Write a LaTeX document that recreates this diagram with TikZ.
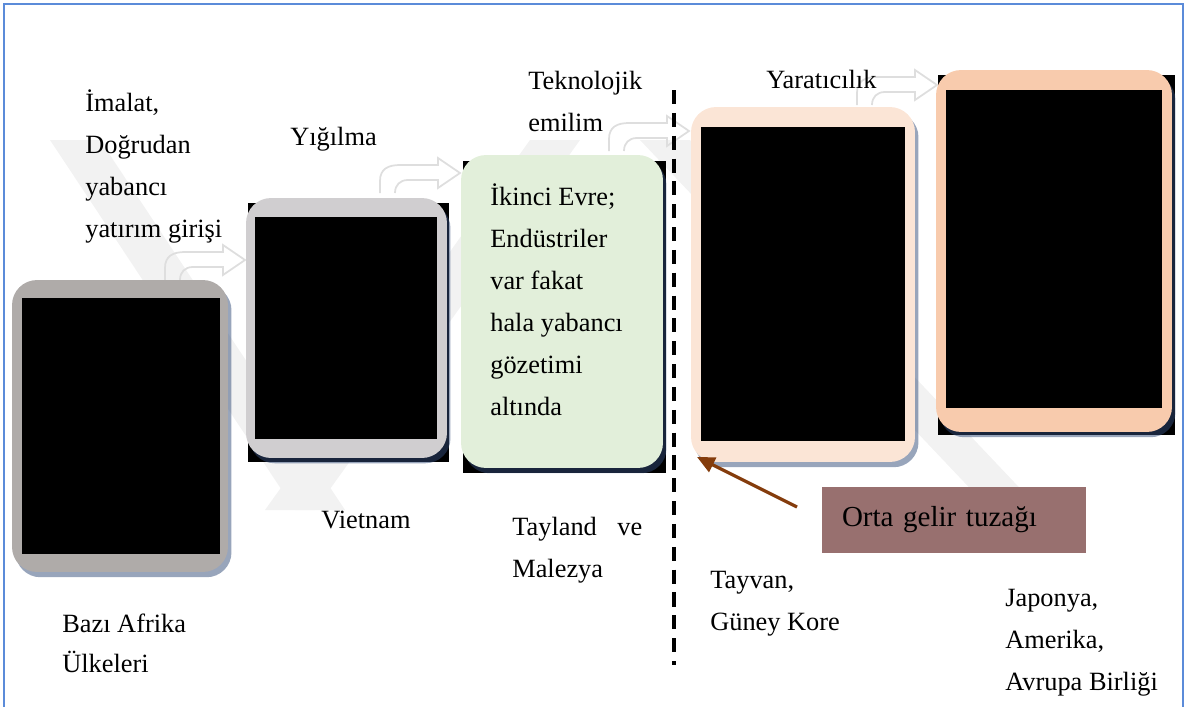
\documentclass[tikz,border=0pt]{standalone}
\usepackage{fontspec}
\setmainfont{Liberation Serif}
\usetikzlibrary{positioning, arrows.meta, shadows}

\definecolor{frameblue}{RGB}{91,139,217}
\definecolor{africagray}{RGB}{175,171,169}
\definecolor{vietgray}{RGB}{208,206,208}
\definecolor{stagegreen}{RGB}{226,239,218}
\definecolor{lightpeach}{RGB}{251,229,214}
\definecolor{peach}{RGB}{248,203,173}
\definecolor{shadowblue}{RGB}{50,75,120}
\definecolor{trapbrown}{RGB}{132,60,12}
\definecolor{trapfill}{RGB}{152,112,111}
\definecolor{bendgray}{RGB}{222,222,222}
\definecolor{markgray}{RGB}{242,242,242}

\begin{document}
\begin{tikzpicture}[
    x=0.02cm, y=-0.02cm,
    font=\fontsize{15}{23.8}\selectfont,
    % Styles
    step_box/.style={
        rounded corners=0.5cm,
        inner sep=0, outer sep=0,
        drop shadow={shadow xshift=2pt, shadow yshift=-3pt,
                     fill=shadowblue, opacity=0.5}
    },
    backdrop/.style={fill=black, inner sep=0, outer sep=0},
    photo/.style={fill=black, inner sep=0, outer sep=0},
    % text nodes sit on the baseline of their last line
    txt/.style={anchor=base west, align=left, inner sep=0},
    trap_box/.style={
        fill=trapfill,
        minimum width=5.28cm,
        minimum height=1.32cm,
        text width=4.48cm,
        inner xsep=0.4cm,
        align=left,
        font=\fontsize{16.5}{20}\selectfont
    },
    bend_line/.style={draw=bendgray, line width=1pt},
    curved_arrow/.pic={
        \draw[bend_line] (0,0) -- (0,-12) .. controls (0,-24) and (8,-28) .. (20,-28)
            -- (58,-28) -- (58,-35) -- (80,-20) -- (58,-5) -- (58,-13) -- (28,-13)
            .. controls (20,-13) and (15,-8) .. (15,0);
    },
    arrow/.style={-{Triangle[length=10pt, width=9pt]}, line width=1.8pt, draw=trapbrown}
]
    \useasboundingbox (0,0) rectangle (1188,707);

    % --- FRAME ---
    \draw[frameblue, line width=1pt] (4,707) -- (4,4) -- (1183,4) -- (1183,707);

    % --- WATERMARK ---
    \fill[markgray] (50,140) -- (100,140) -- (345,510) -- (295,510) -- cycle;
    \fill[markgray] (265,510) -- (315,510) -- (580,140) -- (530,140) -- cycle;
    \fill[markgray] (640,140) -- (690,140) -- (1050,520) -- (1000,520) -- cycle;

    % --- CURVED ARROWS ---
    \pic at (165,280) {curved_arrow};
    \pic at (380,193) {curved_arrow};
    \pic at (609,151) {curved_arrow};
    \pic at (857,105) {curved_arrow};

    % --- STEPS ---
    % Bazi Afrika Ulkeleri
    \node[step_box, fill=africagray, minimum width=4.32cm, minimum height=5.84cm]
        (africa_box) at (120,426) {};
    \node[photo, minimum width=3.96cm, minimum height=5.12cm] (africa_img) at (121,426) {};

    % Vietnam
    \node[backdrop, minimum width=4.02cm, minimum height=5.18cm] (viet_back) at (348.5,332.5) {};
    \node[step_box, fill=vietgray, minimum width=4.02cm, minimum height=5.2cm]
        (viet_box) at (346.5,328) {};
    \node[photo, minimum width=3.64cm, minimum height=4.44cm] (viet_img) at (346,328) {};

    % Tayland ve Malezya
    \node[backdrop, minimum width=4.06cm, minimum height=6.24cm] (stage_back) at (564.5,317) {};
    \node[step_box, fill=stagegreen, minimum width=4.04cm, minimum height=6.26cm]
        (stage_box) at (562,311.5) {};

    % Tayvan, Guney Kore
    \node[step_box, fill=lightpeach, minimum width=4.48cm, minimum height=7.1cm]
        (asia_box) at (803,284.5) {};
    \node[photo, minimum width=4.08cm, minimum height=6.28cm] (asia_img) at (803,284) {};

    % Japonya, Amerika, AB
    \node[backdrop, minimum width=4.74cm, minimum height=7.2cm] (rich_back) at (1056.5,255) {};
    \node[step_box, fill=peach, minimum width=4.72cm, minimum height=7.24cm]
        (rich_box) at (1054,251) {};
    \node[photo, minimum width=4.32cm, minimum height=6.36cm] (rich_img) at (1054,249) {};

    % --- MIDDLE INCOME LINE ---
    \coordinate (divider_top) at (674,90);
    \coordinate (divider_bottom) at (674,665);
    \draw[line width=2pt, dash pattern=on 8pt off 5pt] (divider_top) -- (divider_bottom);

    \node[trap_box] (trap) at (954,520) {Orta gelir tuzağı};
    \coordinate (trap_tail) at (797,507);
    \coordinate (trap_tip) at (697,457);
    \draw[arrow] (trap_tail) -- (trap_tip);

    % --- LABELS ---
    \node[txt] (fdi) at (85,237) {İmalat,\\Doğrudan\\yabancı\\yatırım girişi};
    \node[txt] (agglo) at (290,145) {Yığılma};
    \node[txt] (tech) at (528,131) {Teknolojik\\emilim};
    \node[txt] (creative) at (766,88) {Yaratıcılık};
    \node[txt] (stage_text) at (490,415)
        {İkinci Evre;\\Endüstriler\\var fakat\\hala yabancı\\gözetimi\\altında};

    \node[txt] (africa) at (62,672) {Bazı Afrika\\[-1.5pt]Ülkeleri};
    \node[txt] (viet) at (321,528) {Vietnam};
    \node[txt] (thmy) at (512,577) {\makebox[2.6cm][s]{Tayland ve}\\Malezya};
    \node[txt] (twkr) at (710,630) {Tayvan,\\Güney Kore};
    \node[txt] (rich) at (1005,690) {Japonya,\\Amerika,\\Avrupa Birliği};

\end{tikzpicture}
\end{document}
